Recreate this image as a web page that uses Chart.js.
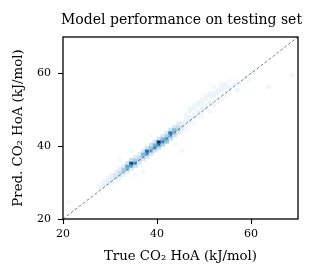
<!DOCTYPE html>
<html>
<head>
<meta charset="utf-8">
<script src="https://cdn.jsdelivr.net/npm/chart.js@4/dist/chart.umd.min.js"></script>
<style>
html,body{margin:0;padding:0;background:#fff;}
#wrap{width:316px;height:279px;position:relative;}
</style>
</head>
<body>
<div id="wrap"><canvas id="c" width="316" height="279"></canvas></div>
<script>
// 2D histogram: 60x60 bins over 20..70 on both axes
const chartTitle = 'Model performance on testing set';
const axisRange = [20, 70];
const nBins = 60;
const tickStep = 20;
const diagonal = [20, 70];
// bin column index (true), bin row index (pred), count
const binCol = [
 1,
 9,9,
 10,10,10,
 11,11,11,
 12,12,12,12,
 13,13,13,13,
 14,14,14,14,14,
 15,15,15,15,
 16,16,16,16,
 17,17,17,17,17,
 18,18,18,18,18,
 19,19,19,19,
 20,20,20,20,20,
 21,21,21,21,
 22,22,22,22,22,
 23,23,23,23,
 24,24,24,24,
 25,25,25,25,
 26,26,26,26,
 27,27,27,27,
 28,28,28,28,28,
 29,29,29,29,
 30,30,30,30,
 31,31,31,31,31,
 32,32,32,32,32,
 33,33,33,33,33,
 34,34,34,34,
 35,35,35,35,35,
 36,36,36,36,
 37,37,37,37,
 38,38,38,38,38,
 39,39,39,
 40,40,40,40,
 41,41,41,
 42,42,42,
 43,
 44,44,
 45,
 46,
 47,
 52,
 48,
 58
];
const binRow = [
 5,
 10,11,
 10,11,12,
 11,12,13,
 11,12,13,14,
 12,13,14,15,
 13,14,15,16,19,
 14,15,16,17,
 15,16,17,18,
 16,17,18,19,22,
 14,17,18,19,20,
 18,19,20,21,
 15,19,20,21,22,
 20,21,22,23,
 21,22,23,24,27,
 22,23,24,25,
 23,24,25,26,
 24,25,26,27,
 25,26,27,28,
 26,27,28,29,
 24,27,28,29,30,
 28,29,30,31,
 22,29,30,31,
 29,30,32,33,34,
 31,32,33,35,36,
 31,33,34,36,37,
 33,35,37,38,
 33,34,36,38,39,
 36,37,39,40,
 35,38,40,41,
 37,39,40,41,43,
 38,41,42,
 39,42,43,44,
 40,43,44,
 42,43,45,
 44,
 42,45,
 44,
 46,
 45,
 43,
 48,
 47
];
const binCount = [
 1,
 2,1,
 1,3,2,
 2,4,2,
 1,3,5,3,
 1,4,7,3,
 2,8,10,4,1,
 3,10,14,5,
 4,16,22,8,
 5,18,36,10,1,
 1,10,22,14,5,
 6,12,10,4,
 1,6,14,18,6,
 8,20,30,8,
 8,18,16,8,1,
 8,22,20,8,
 10,24,40,8,
 12,22,18,6,
 16,20,14,6,
 10,18,30,8,
 1,8,16,18,6,
 5,12,10,4,
 1,3,5,4,
 1,2,3,2,2,
 1,3,3,2,2,
 1,3,2,2,2,
 2,3,2,2,
 1,1,3,2,2,
 2,2,2,2,
 2,3,2,2,
 2,1,2,2,1,
 1,2,2,
 1,2,2,2,
 1,2,2,
 2,2,1,
 2,
 2,1,
 1,
 1,
 1,
 2,
 2,
 2
];
const countMax = 40;

const binW = (axisRange[1] - axisRange[0]) / nBins;
const blues = [[247,251,255],[222,235,247],[198,219,239],[158,202,225],[107,174,214],[66,146,198],[33,113,181],[8,81,156],[8,48,107]];
function bluesColor(t){
  t = Math.max(0, Math.min(1, t));
  const p = t * (blues.length - 1);
  const i = Math.min(Math.floor(p), blues.length - 2);
  const f = p - i;
  const a = blues[i], b = blues[i+1];
  return 'rgb(' + [0,1,2].map(k => Math.round(a[k] + (b[k]-a[k])*f)).join(',') + ')';
}
const cells = binCol.map((c, k) => ({
  x: axisRange[0] + (c + 0.5) * binW,
  y: [axisRange[0] + binRow[k] * binW, axisRange[0] + (binRow[k] + 1) * binW],
  n: binCount[k]
}));

const serif = 'DejaVu Serif';
const frame = {
  id: 'frame',
  afterDatasetsDraw(chart){
    const a = chart.chartArea, ctx = chart.ctx;
    ctx.save();
    ctx.strokeStyle = '#000';
    ctx.lineWidth = 1.3;
    ctx.strokeRect(a.left, a.top, a.right - a.left, a.bottom - a.top);
    ctx.restore();
  },
  afterDraw(chart){
    const a = chart.chartArea, ctx = chart.ctx;
    ctx.save();
    ctx.fillStyle = '#000';
    ctx.font = '14px "' + serif + '"';
    ctx.textAlign = 'center';
    ctx.textBaseline = 'middle';
    ctx.fillText(chartTitle, (a.left + a.right) / 2 + 1, 20);
    ctx.restore();
  }
};

new Chart(document.getElementById('c'), {
  type: 'bar',
  data: {
    datasets: [
      {
        type: 'line',
        data: diagonal.map(v => ({x: v, y: v})),
        borderColor: 'rgba(0,0,0,0.5)',
        borderWidth: 1,
        borderDash: [3, 2],
        pointRadius: 0,
        fill: false,
        order: 0
      },
      {
        type: 'bar',
        data: cells,
        backgroundColor: ctx => ctx.raw ? bluesColor(ctx.raw.n / countMax) : '#fff',
        borderWidth: 0,
        barPercentage: 1,
        categoryPercentage: 1,
        order: 1
      }
    ]
  },
  plugins: [frame],
  options: {
    responsive: false,
    animation: false,
    layout: {padding: {top: 37, right: 18, bottom: 0, left: 0}},
    plugins: {
      legend: {display: false},
      tooltip: {enabled: false},
      title: {display: false}
    },
    scales: {
      x: {
        type: 'linear',
        min: axisRange[0], max: axisRange[1],
        offset: false,
        afterFit: s => { s.height = 60; },
        ticks: {stepSize: tickStep, includeBounds: false, color: '#000', font: {family: serif, size: 11}, padding: 4, maxRotation: 0},
        grid: {display: true, offset: false, drawOnChartArea: false, drawTicks: true, tickLength: 5, tickColor: '#000', tickWidth: 1.1},
        border: {display: false},
        title: {display: true, text: 'True CO₂ HoA (kJ/mol)', color: '#000', font: {family: serif, size: 13.3}, padding: {top: 0, bottom: 14.5}}
      },
      y: {
        type: 'linear',
        min: axisRange[0], max: axisRange[1],
        afterFit: s => { s.width = 63; },
        ticks: {stepSize: tickStep, includeBounds: false, color: '#000', font: {family: serif, size: 11}, padding: 7},
        grid: {display: true, offset: false, drawOnChartArea: false, drawTicks: true, tickLength: 5, tickColor: '#000', tickWidth: 1.1},
        border: {display: false},
        title: {display: true, text: 'Pred. CO₂ HoA (kJ/mol)', color: '#000', font: {family: serif, size: 13.3}, padding: {top: 11, bottom: 0}}
      }
    }
  }
});
</script>
</body>
</html>
